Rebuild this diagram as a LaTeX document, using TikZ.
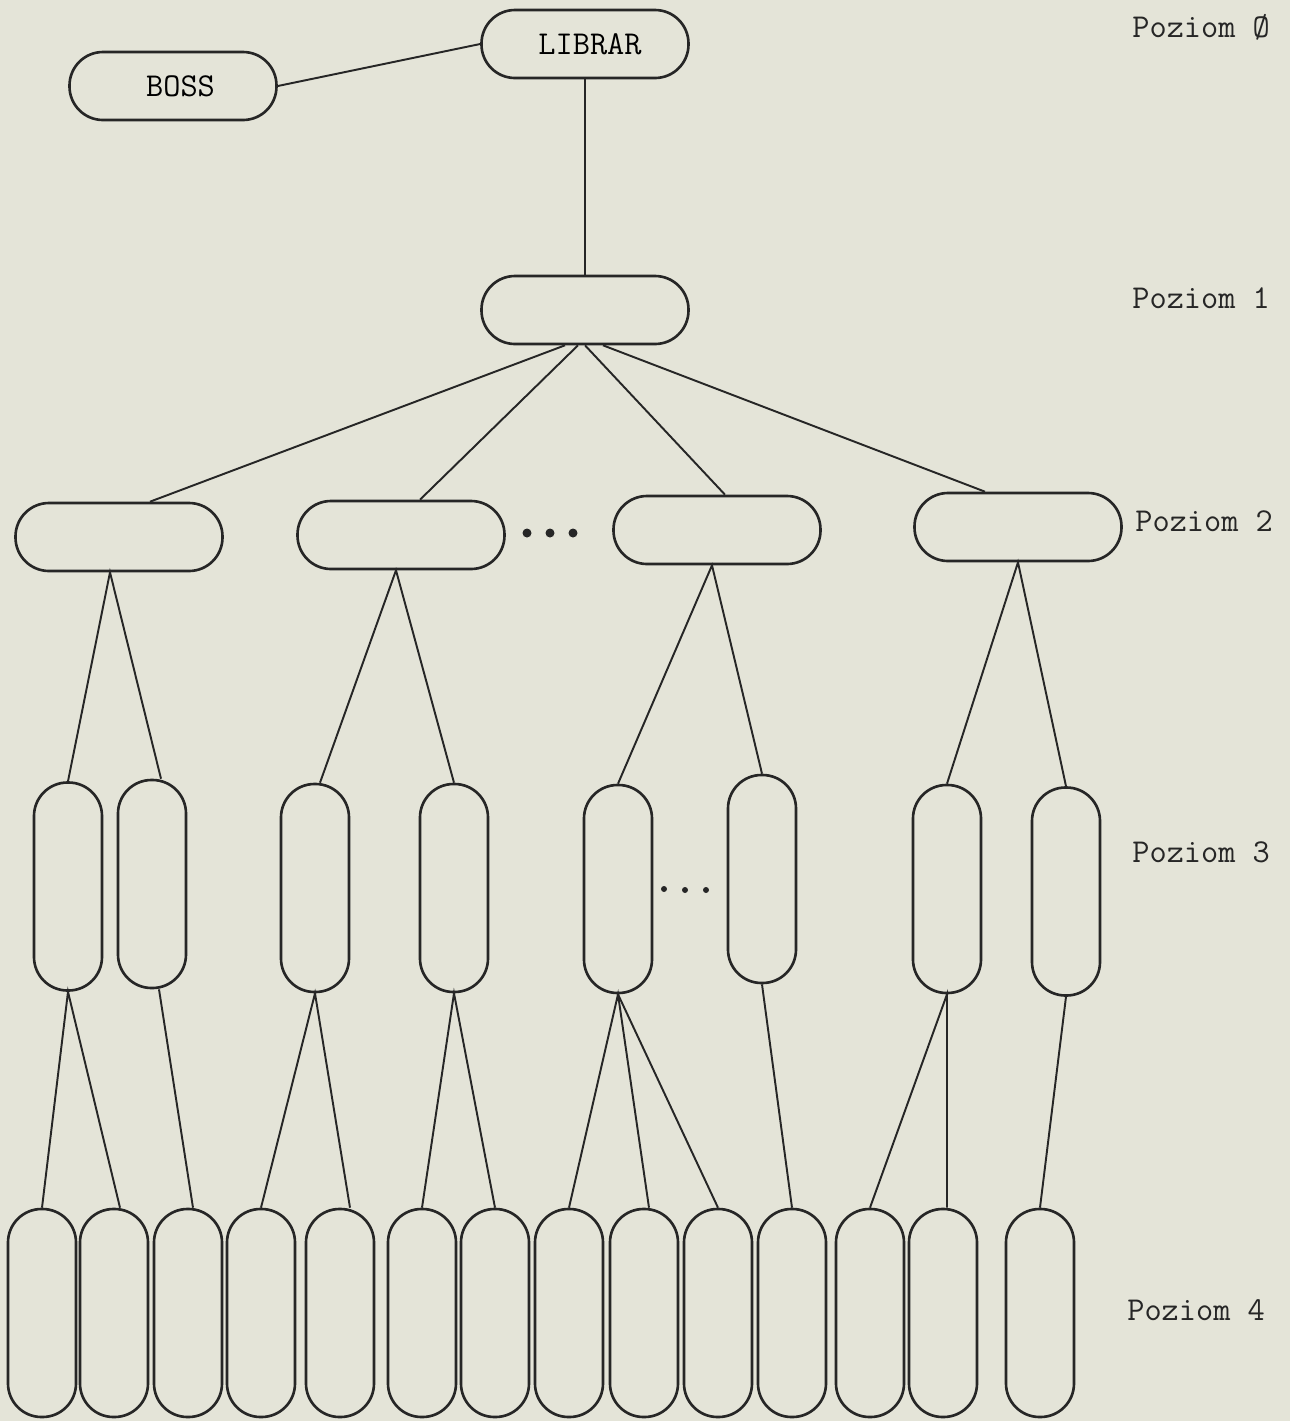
\documentclass[tikz,border=0pt]{standalone}
\usepackage{fontspec}
\usepackage{tikz}

\definecolor{paper}{RGB}{228,228,216}
\definecolor{ink}{RGB}{38,38,38}

\begin{document}
\begin{tikzpicture}[
  font=\ttfamily\fontsize{19}{22}\selectfont,
  hbox/.style={draw=ink, line width=1.5pt, rounded corners=0.67cm,
    minimum width=4.14cm, minimum height=1.36cm, inner sep=0pt},
  vbox/.style={draw=ink, line width=1.5pt, rounded corners=0.67cm,
    minimum width=1.36cm, minimum height=4.16cm, inner sep=0pt},
  ln/.style={draw=ink, line width=1.1pt},
  lvl/.style={anchor=west, inner sep=0pt, text=ink},
  dot/.style={circle, fill=ink, inner sep=0pt, minimum size=0.18cm}
]
  \fill[paper] (0,0) rectangle (25.8,-28.42);
  \node[hbox] (boss) at (3.46,-1.72) {\hspace*{0.3cm}BOSS};
  \node[hbox] (librar) at (11.70,-0.88) {\hspace*{0.2cm}LIBRAR};
  \node[hbox] (n1) at (11.70,-6.20) {};
  \draw[ln] (boss.east) -- (librar.west);
  \draw[ln] (librar.south) -- (n1.north);
  \node[hbox] (n2a) at (2.38,-10.74) {};
  \node[hbox] (n2b) at (8.02,-10.70) {};
  \node[hbox] (n2c) at (14.34,-10.60) {};
  \node[hbox] (n2d) at (20.36,-10.54) {};
  \node[dot] (dt1) at (10.54,-10.66) {};
  \node[dot] (dt2) at (11.00,-10.66) {};
  \node[dot] (dt3) at (11.46,-10.66) {};
  \draw[ln] ([xshift=-0.4cm]n1.south) -- ([xshift=0.62cm]n2a.north);
  \draw[ln] ([xshift=-0.14cm]n1.south) -- ([xshift=0.38cm]n2b.north);
  \draw[ln] (n1.south) -- ([xshift=0.16cm]n2c.north);
  \draw[ln] ([xshift=0.36cm]n1.south) -- ([xshift=-0.66cm]n2d.north);
  \node[vbox] (n3a) at (1.36,-17.73) {};
  \node[vbox] (n3b) at (3.04,-17.68) {};
  \node[vbox] (n3c) at (6.30,-17.76) {};
  \node[vbox] (n3d) at (9.08,-17.76) {};
  \node[vbox] (n3e) at (12.36,-17.78) {};
  \node[vbox] (n3f) at (15.24,-17.58) {};
  \node[vbox] (n3g) at (18.94,-17.78) {};
  \node[vbox] (n3h) at (21.32,-17.83) {};
  \node[dot, minimum size=0.12cm] (dt4) at (13.28,-17.78) {};
  \node[dot, minimum size=0.12cm] (dt5) at (13.70,-17.80) {};
  \node[dot, minimum size=0.12cm] (dt6) at (14.12,-17.80) {};
  \draw[ln] (n3a.north) -- ([xshift=-0.18cm]n2a.south) -- ([xshift=0.18cm]n3b.north);
  \draw[ln] ([xshift=0.1cm]n3c.north) -- ([xshift=-0.1cm]n2b.south) -- (n3d.north);
  \draw[ln] (n3e.north) -- ([xshift=-0.1cm]n2c.south) -- (n3f.north);
  \draw[ln] (n3g.north) -- (n2d.south) -- (n3h.north);
  \node[vbox] (n4a) at (0.84,-26.26) {};
  \node[vbox] (n4b) at (2.28,-26.26) {};
  \node[vbox] (n4c) at (3.76,-26.26) {};
  \node[vbox] (n4d) at (5.22,-26.26) {};
  \node[vbox] (n4e) at (6.80,-26.26) {};
  \node[vbox] (n4f) at (8.44,-26.26) {};
  \node[vbox] (n4g) at (9.90,-26.26) {};
  \node[vbox] (n4h) at (11.38,-26.26) {};
  \node[vbox] (n4i) at (12.88,-26.26) {};
  \node[vbox] (n4j) at (14.36,-26.26) {};
  \node[vbox] (n4k) at (15.84,-26.26) {};
  \node[vbox] (n4l) at (17.40,-26.26) {};
  \node[vbox] (n4m) at (18.86,-26.26) {};
  \node[vbox] (n4n) at (20.80,-26.26) {};
  \draw[ln] (n4a.north) -- (n3a.south) -- ([xshift=0.12cm]n4b.north);
  \draw[ln] ([xshift=0.14cm]n3b.south) -- ([xshift=0.1cm]n4c.north);
  \draw[ln] (n4d.north) -- (n3c.south) -- ([xshift=0.2cm]n4e.north);
  \draw[ln] (n4f.north) -- (n3d.south) -- (n4g.north);
  \draw[ln] (n4h.north) -- (n3e.south) -- ([xshift=0.1cm]n4i.north);
  \draw[ln] (n3e.south) -- (n4j.north);
  \draw[ln] (n3f.south) -- (n4k.north);
  \draw[ln] (n4l.north) -- (n3g.south) -- ([xshift=0.08cm]n4m.north);
  \draw[ln] (n3h.south) -- (n4n.north);
  \node[lvl] (pz0) at (22.64,-0.54) {Poziom Ø};
  \node[lvl] (pz1) at (22.64,-5.96) {Poziom 1};
  \node[lvl] (pz2) at (22.70,-10.42) {Poziom 2};
  \node[lvl] (pz3) at (22.64,-17.04) {Poziom 3};
  \node[lvl] (pz4) at (22.54,-26.20) {Poziom 4};
\end{tikzpicture}
\end{document}
